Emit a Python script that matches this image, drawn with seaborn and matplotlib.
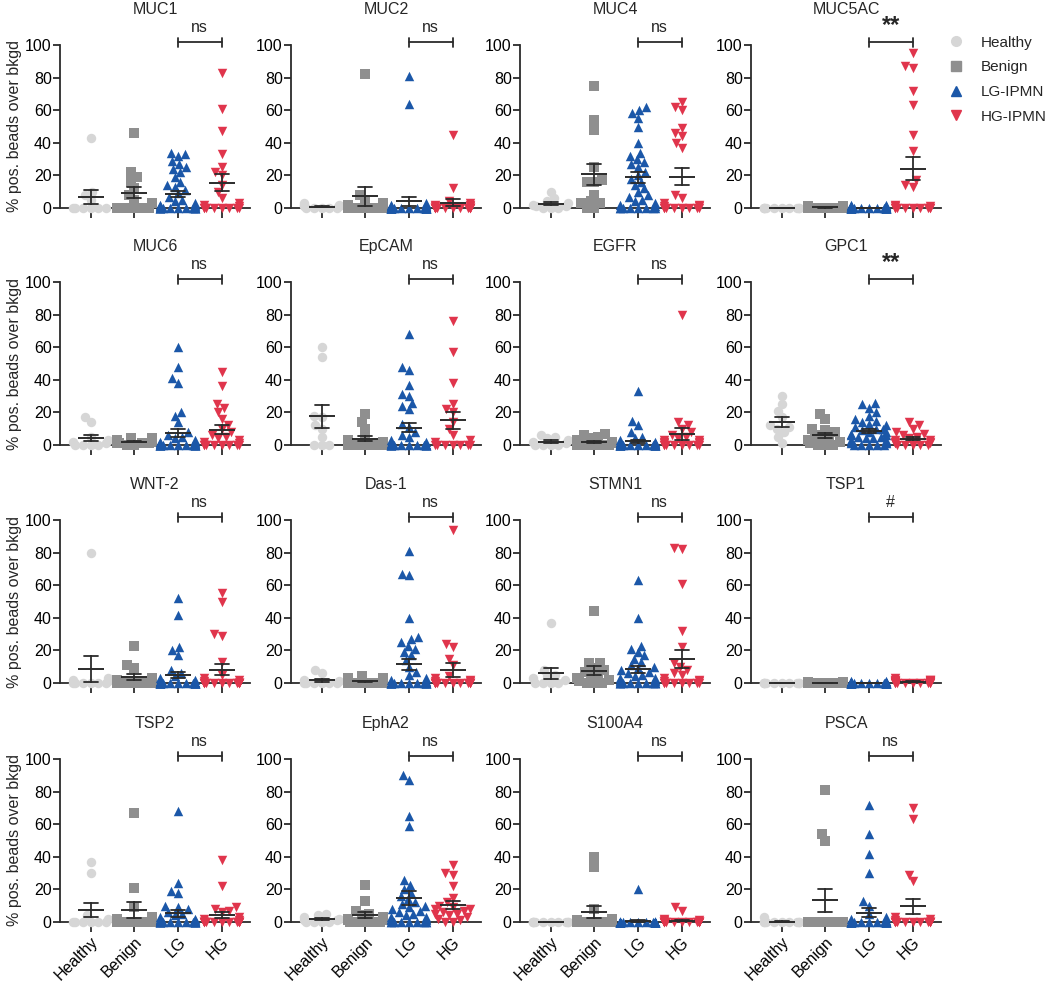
import warnings

import matplotlib.pyplot as plt
from matplotlib.lines import Line2D
import numpy as np
import pandas as pd
import seaborn as sns

warnings.filterwarnings("ignore")

GROUPS = ["Healthy", "Benign", "LG", "HG"]
LEGEND_NAMES = ["Healthy", "Benign", "LG-IPMN", "HG-IPMN"]
COLORS = ["#d6d6d6", "#8f8f8f", "#1b57a8", "#e0354c"]
MARKERS = ["o", "s", "^", "v"]

PANELS = ["MUC1", "MUC2", "MUC4", "MUC5AC",
          "MUC6", "EpCAM", "EGFR", "GPC1",
          "WNT-2", "Das-1", "STMN1", "TSP1",
          "TSP2", "EphA2", "S100A4", "PSCA"]
STARS = ["ns", "ns", "ns", "**",
         "ns", "ns", "ns", "**",
         "ns", "ns", "ns", "#",
         "ns", "ns", "ns", "ns"]

# values per panel: healthy, benign, LG, HG
muc1_h = [43, 10, 8, 5] + [0] * 6
muc1_b = [46, 22, 19, 16, 12, 8, 5, 3] + [0] * 6
muc1_lg = [34, 33, 32, 29, 27, 25, 24, 22, 19, 16, 14, 13, 11, 9, 7, 5, 4, 3, 2, 2, 1, 1] + [0] * 16
muc1_hg = [83, 61, 47, 33, 25, 22, 20, 14, 10, 6, 3, 2, 1] + [0] * 8

muc2_h = [3, 2, 2, 1, 1] + [0] * 5
muc2_b = [82, 8, 5, 3, 2, 1, 1] + [0] * 7
muc2_lg = [81, 64, 3, 2, 2, 1, 1] + [0] * 31
muc2_hg = [45, 12, 4, 3, 2, 2, 1, 1] + [0] * 14

muc4_h = [10, 6, 4, 3, 2, 1, 1, 0, 0, 0]
muc4_b = [75, 54, 48, 25, 17, 16, 16, 8, 4, 3, 3, 0, 0]
muc4_lg = [62, 60, 58, 55, 50, 40, 34, 32, 30, 28, 27, 25, 22, 20, 18, 16, 14, 12, 10, 8, 7, 5, 4, 3, 2, 1] + [0] * 8
muc4_hg = [65, 62, 60, 49, 46, 44, 40, 37, 8, 6, 3, 2, 1, 1] + [0] * 8

muc5ac_h = [0] * 10
muc5ac_b = [1, 1, 1, 1, 0.5, 0.5, 0.5] + [0] * 7
muc5ac_lg = [2, 2, 1, 1, 1, 0.5, 0.5] + [0] * 31
muc5ac_hg = [95, 87, 86, 72, 63, 45, 35, 17, 14, 13, 2, 1, 1] + [0] * 9

muc6_h = [17, 14, 5, 3, 2, 1, 0, 0, 0, 0]
muc6_b = [4, 4, 3, 3, 3, 2, 2, 2, 1, 1, 1, 1, 0, 0]
muc6_lg = [60, 48, 41, 38, 20, 18, 14, 8, 6, 5, 4, 3, 2, 2, 1, 1] + [0] * 22
muc6_hg = [45, 36, 25, 23, 20, 16, 12, 10, 8, 6, 5, 4, 3, 2, 1] + [0] * 8

epcam_h = [60, 54, 18, 17, 12, 10, 5, 0, 0, 0]
epcam_b = [19, 14, 10, 5, 3, 2, 1] + [0] * 7
epcam_lg = [68, 48, 46, 37, 31, 30, 26, 24, 22, 13, 11, 8, 6, 5, 3, 2, 1] + [0] * 19
epcam_hg = [76, 57, 38, 25, 22, 20, 14, 10, 6, 3, 2] + [0] * 7

egfr_h = [6, 5, 4, 3, 2, 1] + [0] * 4
egfr_b = [7, 6, 5, 4, 3, 2, 1, 1] + [0] * 6
egfr_lg = [33, 15, 12, 8, 5, 4, 3, 2, 2, 1, 1] + [0] * 27
egfr_hg = [80, 14, 12, 10, 8, 6, 5, 4, 3, 3, 2, 2, 1, 1] + [0] * 8

gpc1_h = [30, 25, 21, 17, 12, 11, 10, 8, 5, 1]
gpc1_b = [19, 16, 10, 9, 8, 6, 5, 4, 3, 2, 1, 0, 0, 0]
gpc1_lg = [26, 25, 23, 20, 18, 16, 15, 14, 13, 12, 11, 10, 10, 9, 8, 8, 7, 6, 6, 5, 5, 4, 4, 3, 3, 2, 2, 1, 1] + [0] * 5
gpc1_hg = [14, 12, 10, 8, 7, 6, 5, 4, 3, 3, 2, 2, 1, 1, 1] + [0] * 5

wnt2_h = [80, 3, 2, 1] + [0] * 6
wnt2_b = [23, 11, 9, 3, 2, 1] + [0] * 8
wnt2_lg = [52, 42, 22, 20, 17, 8, 6, 4, 3, 2, 1] + [0] * 27
wnt2_hg = [55, 50, 30, 29, 13, 5, 3, 2, 1] + [0] * 14

das1_h = [8, 6, 2, 1] + [0] * 6
das1_b = [4, 3, 3, 2, 2, 1, 1] + [0] * 7
das1_lg = [81, 67, 66, 40, 28, 27, 25, 23, 21, 19, 17, 14, 10, 7, 5, 3, 2, 1] + [0] * 22
das1_hg = [94, 24, 22, 15, 11, 4, 3, 2, 1, 1] + [0] * 12

stmn1_h = [37, 8, 5, 4, 3, 2, 0, 0, 0, 0]
stmn1_b = [44, 12, 12, 9, 8, 7, 5, 4, 3, 2, 1, 0, 0, 0]
stmn1_lg = [63, 40, 23, 21, 19, 17, 15, 13, 11, 10, 9, 8, 7, 6, 5, 4, 3, 3, 2, 2, 1, 1] + [0] * 12
stmn1_hg = [83, 82, 61, 32, 22, 12, 10, 8, 6, 5, 3, 2, 1, 1] + [0] * 8

tsp1_h = [0] * 10
tsp1_b = [0.5, 0.5] + [0] * 12
tsp1_lg = [1, 1, 0.5, 0.5] + [0] * 34
tsp1_hg = [3, 2, 2, 2, 1.5, 1.5, 1, 1, 1, 1, 0.5, 0.5, 0.5] + [0] * 9

tsp2_h = [37, 30, 4, 2] + [0] * 6
tsp2_b = [67, 21, 9, 3, 2, 1] + [0] * 8
tsp2_lg = [68, 24, 19, 18, 10, 9, 8, 6, 5, 4, 3, 2, 2, 1, 1] + [0] * 19
tsp2_hg = [38, 22, 9, 8, 7, 6, 3, 2, 1] + [0] * 13

epha2_h = [5, 4, 3, 2, 1, 1] + [0] * 4
epha2_b = [23, 13, 7, 5, 4, 3, 2, 1, 1] + [0] * 5
epha2_lg = [90, 87, 65, 59, 26, 23, 20, 18, 16, 14, 12, 11, 10, 9, 8, 7, 6, 5, 4, 3, 3, 2, 2, 1, 1] + [0] * 9
epha2_hg = [35, 30, 29, 22, 15, 12, 10, 9, 8, 8, 7, 6, 5, 5, 4, 3, 2, 1, 0, 0]

s100a4_h = [0] * 10
s100a4_b = [40, 34, 8, 2, 1, 1] + [0] * 8
s100a4_lg = [20] + [0] * 37
s100a4_hg = [9, 7, 2, 1, 1] + [0] * 17

psca_h = [3] + [0] * 9
psca_b = [81, 54, 50] + [0] * 11
psca_lg = [72, 54, 42, 30, 13, 10, 5, 3, 2, 1] + [0] * 30
psca_hg = [70, 63, 29, 25, 3, 2, 1] + [0] * 13

DATA = [
    [muc1_h, muc1_b, muc1_lg, muc1_hg],
    [muc2_h, muc2_b, muc2_lg, muc2_hg],
    [muc4_h, muc4_b, muc4_lg, muc4_hg],
    [muc5ac_h, muc5ac_b, muc5ac_lg, muc5ac_hg],
    [muc6_h, muc6_b, muc6_lg, muc6_hg],
    [epcam_h, epcam_b, epcam_lg, epcam_hg],
    [egfr_h, egfr_b, egfr_lg, egfr_hg],
    [gpc1_h, gpc1_b, gpc1_lg, gpc1_hg],
    [wnt2_h, wnt2_b, wnt2_lg, wnt2_hg],
    [das1_h, das1_b, das1_lg, das1_hg],
    [stmn1_h, stmn1_b, stmn1_lg, stmn1_hg],
    [tsp1_h, tsp1_b, tsp1_lg, tsp1_hg],
    [tsp2_h, tsp2_b, tsp2_lg, tsp2_hg],
    [epha2_h, epha2_b, epha2_lg, epha2_hg],
    [s100a4_h, s100a4_b, s100a4_lg, s100a4_hg],
    [psca_h, psca_b, psca_lg, psca_hg],
]

sns.set_theme(style="ticks")
plt.rcParams["font.family"] = ["Liberation Sans", "DejaVu Sans"]
DARK = "#2b2b2b"
LAYOUT_SIZE = 5.2   # marker size used for the swarm layout (GraphPad-style overlap)
DRAW_SIZE = 6.8     # marker size actually drawn

rows = []
for name, groups in zip(PANELS, DATA):
    for g, vals in zip(GROUPS, groups):
        for v in vals:
            rows.append((name, g, v))
df = pd.DataFrame(rows, columns=["panel", "group", "value"])

fig = plt.figure(figsize=(10.5, 9.82), dpi=100)

col_left = [60, 291, 520, 751]
row_bottom = [208, 445, 683, 922]
ax_w, ax_h = 190, 163

swarms = []
for i, name in enumerate(PANELS):
    r, c = divmod(i, 4)
    ax = fig.add_axes([col_left[c] / 1050, 1 - row_bottom[r] / 982, ax_w / 1050, ax_h / 982])
    ax.set_ylim(0, 100)
    ax.set_xlim(-0.7, 3.65)
    sub = df[df.panel == name]

    n_before = len(ax.collections)
    for g, col, m in zip(GROUPS, COLORS, MARKERS):
        sns.swarmplot(data=sub[sub.group == g], x="group", y="value", order=GROUPS,
                      color=col, marker=m, size=LAYOUT_SIZE, linewidth=0, ax=ax,
                      warn_thresh=1, clip_on=False, zorder=3)
    swarms.extend(ax.collections[n_before:])

    sns.pointplot(data=sub, x="group", y="value", order=GROUPS, errorbar="se",
                  capsize=0.32, color=DARK, linestyle="none", marker="_",
                  markersize=19, markeredgewidth=1.4, err_kws={"linewidth": 1.3},
                  ax=ax, zorder=4)
    for ln in ax.lines:
        ln.set_clip_on(False)
        ln.set_zorder(4)

    ax.set_xlim(-0.7, 3.65)
    ax.set_ylim(0, 100)
    ax.set_yticks([0, 20, 40, 60, 80, 100])
    ax.set_xlabel("")
    ax.set_ylabel("")
    sns.despine(ax=ax)
    for s in ["left", "bottom"]:
        ax.spines[s].set_linewidth(1.3)
        ax.spines[s].set_color(DARK)
    ax.tick_params(axis="y", length=5, width=1.3, color=DARK, labelsize=11.5, pad=1, labelcolor="black")
    ax.tick_params(axis="x", length=7, width=1.3, color=DARK, labelsize=11.5, pad=2, labelcolor="black")

    ax.set_xticks(range(4))
    if r == 3:
        ax.set_xticklabels(GROUPS, rotation=45, ha="right", rotation_mode="anchor")
    else:
        ax.set_xticklabels([])

    if c == 0:
        ax.set_ylabel("% pos. beads over bkgd", fontsize=11.5, labelpad=2)

    # bracket LG vs HG
    ax.plot([2, 3], [101.6, 101.6], color=DARK, lw=1.3, clip_on=False)
    ax.plot([2, 2], [99, 104.3], color=DARK, lw=1.3, clip_on=False)
    ax.plot([3, 3], [99, 104.3], color=DARK, lw=1.3, clip_on=False)
    if STARS[i] == "**":
        ax.text(2.5, 105, "**", ha="center", va="bottom", fontsize=17, fontweight="bold")
    else:
        ax.text(2.5, 106, STARS[i], ha="center", va="bottom", fontsize=11.5)

    ax.text(0.5, 1.22, name, transform=ax.transAxes, ha="center", va="center", fontsize=11.5)

handles = [Line2D([], [], linestyle="none", marker=m, color=col, markersize=7)
           for m, col in zip(MARKERS, COLORS)]
fig.legend(handles, LEGEND_NAMES, loc="upper left", bbox_to_anchor=(933 / 1050, 1 - 22 / 982),
           frameon=False, fontsize=11, handletextpad=1.0, labelspacing=0.7, handlelength=1.2)

# compute the swarm layout with small markers, then freeze it and draw bigger markers
fig.canvas.draw()
for coll in swarms:
    coll.__dict__.pop("draw", None)
    coll.set_sizes([DRAW_SIZE ** 2])

plt.savefig("out.png", dpi=100)
